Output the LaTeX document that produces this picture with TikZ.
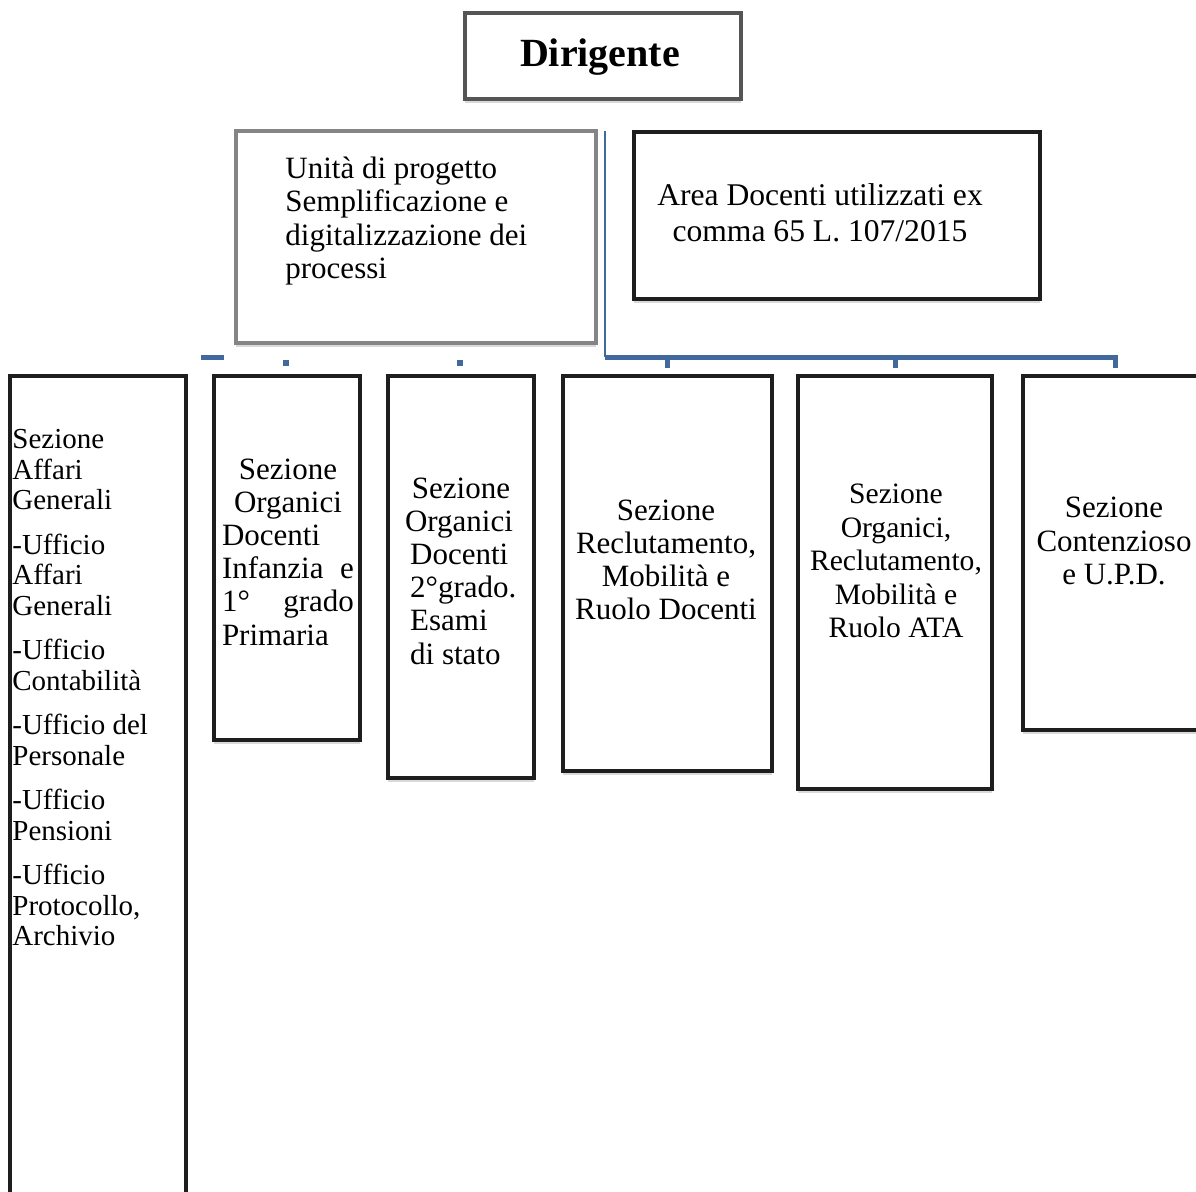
\documentclass[tikz,border=0pt]{standalone}
\usepackage{fontspec}
\setmainfont{Liberation Serif}
\usetikzlibrary{positioning, shadows}
\definecolor{busBlue}{HTML}{41699E}
\definecolor{frameGray}{HTML}{555555}
\definecolor{frameLight}{HTML}{858585}
\definecolor{frameDark}{HTML}{1E1E1E}

\begin{document}
\begin{tikzpicture}[x=0.5pt, y=-0.5pt,
    box/.style={rectangle, draw=frameDark, line width=1.6pt, fill=white, inner sep=0pt,
                drop shadow={shadow xshift=0pt, shadow yshift=-2pt, opacity=0.3}},
    txt/.style={inner sep=0pt, font=\fontsize{15.5}{16.6}\selectfont, align=center},
    bus/.style={draw=busBlue, line width=2.5pt},
    tick/.style={draw=busBlue, line width=3pt},
  ]
    \useasboundingbox (0,0) rectangle (1196,1191);
    \clip (0,0) rectangle (1196,1191);

    % Vertice
    \node[box, draw=frameGray, minimum width=138pt, minimum height=43pt] (dir) at (603,56) {};
    \node[txt, font=\fontsize{20}{24}\selectfont\bfseries] (dirTxt) at (600,57) {Dirigente};

    % Unita' e area in staff
    \node[box, draw=frameLight, minimum width=180pt, minimum height=106pt] (unita) at (416,237) {};
    \node[txt, anchor=west, align=left] (unitaTxt) at (285,221)
      {Unità di progetto\\Semplificazione e\\digitalizzazione dei\\processi};
    \node[box, draw=frameDark, minimum width=203pt, minimum height=83.5pt] (area) at (837,215.5) {};
    \node[txt, font=\fontsize{15.8}{18}\selectfont] (areaTxt) at (820,213)
      {Area Docenti utilizzati ex\\comma 65 L. 107/2015};

    % Sezioni
    \node[box, minimum width=88pt, minimum height=437pt] (sez1) at (98,813) {};
    \node[box, minimum width=73pt, minimum height=182pt] (sez2) at (287,558) {};
    \node[box, minimum width=73pt, minimum height=201pt] (sez3) at (461,577) {};
    \node[box, minimum width=104.5pt, minimum height=197.5pt] (sez4) at (667.5,573.5) {};
    \node[box, minimum width=97pt, minimum height=206.5pt] (sez5) at (895,582.5) {};
    \node[box, minimum width=103.5pt, minimum height=177pt] (sez6) at (1126.5,553) {};

    \node[txt, anchor=west, align=left, font=\fontsize{14.5}{15.25}\selectfont] (sez1Txt) at (12,688)
      {Sezione\\Affari\\Generali\\[7pt]-Ufficio\\Affari\\Generali\\[7pt]-Ufficio\\Contabilità\\[7pt]-Ufficio del\\Personale\\[7pt]-Ufficio\\Pensioni\\[7pt]-Ufficio\\Protocollo,\\Archivio};
    \node[txt, align=left] (sez2Txt) at (288,552)
      {\makebox[66pt][c]{Sezione}\\\makebox[66pt][c]{Organici}\\\makebox[66pt][l]{Docenti}\\
       \makebox[66pt]{Infanzia\hfill e}\\\makebox[66pt]{1°\hfill grado}\\\makebox[66pt][l]{Primaria}};
    \node[txt, align=left] (sez3Txt) at (461,571)
      {\makebox[56pt][c]{Sezione}\\\makebox[56pt][l]{Organici}\\\makebox[56pt][l]{\,Docenti}\\
       \makebox[56pt][l]{\,2°grado.}\\\makebox[56pt][l]{\,Esami}\\\makebox[56pt][l]{\,di stato}};
    \node[txt] (sez4Txt) at (666,560) {Sezione\\Reclutamento,\\Mobilità e\\Ruolo Docenti};
    \node[txt, font=\fontsize{14.8}{16.8}\selectfont] (sez5Txt) at (896,561)
      {Sezione\\Organici,\\Reclutamento,\\Mobilità e\\Ruolo ATA};
    \node[txt] (sez6Txt) at (1114,541) {Sezione\\Contenzioso\\e U.P.D.};

    % Linee di collegamento
    \coordinate (busTop) at (605,131);
    \coordinate (busEnd) at (1115,357);
    \coordinate (stubL) at (201,357);
    \draw[busBlue, line width=1pt] (busTop) -- (busTop |- busEnd);
    \draw[bus] (busTop |- busEnd) -- (busEnd) -- ++(0,11);
    \draw[bus] (sez4.north |- busEnd) -- ++(0,11);
    \draw[bus] (sez5.north |- busEnd) -- ++(0,11);
    \draw[bus] (stubL) -- ++(23,0);
    \draw[tick] (sez2.north) ++(-1,-14) -- ++(0,6);
    \draw[tick] (sez3.north) ++(-1,-14) -- ++(0,6);
  \end{tikzpicture}
\end{document}
